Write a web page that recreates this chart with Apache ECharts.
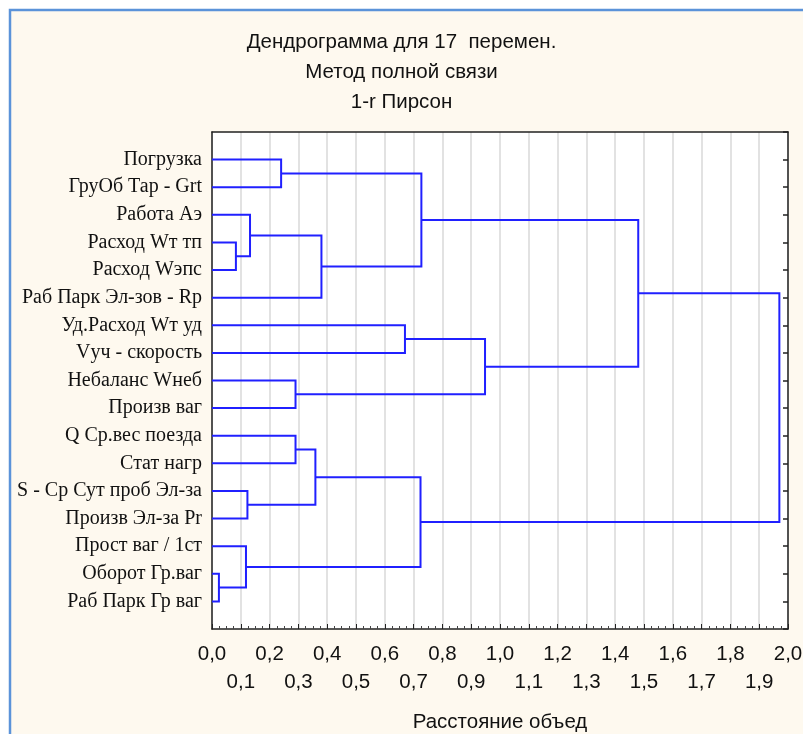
<!DOCTYPE html>
<html lang="ru">
<head>
    <meta charset="UTF-8">
    <title>Дендрограмма</title>
    <style type="text/css">
        *{
            margin: 0;
            padding: 0;
        }
        #main{
            width: 803px;
            height: 734px;
        }
    </style>
</head>
<body>
    <div id="main"></div>
    <script src="https://cdn.jsdelivr.net/npm/echarts@6/dist/echarts.min.js"></script>
    <script type="text/javascript">
        // листья сверху вниз
        var leafNames = [
            'Погрузка', 'ГруОб Тар - Grt', 'Работа Аэ', 'Расход Wт тп', 'Расход Wэпс',
            'Раб Парк Эл-зов - Rp', 'Уд.Расход Wт уд', 'Vуч - скорость', 'Небаланс Wнеб',
            'Произв ваг', 'Q Ср.вес поезда', 'Стат нагр', 'S - Ср Сут проб Эл-за',
            'Произв Эл-за Pr', 'Прост ваг / 1ст', 'Оборот Гр.ваг', 'Раб Парк Гр ваг'
        ];
        // объединения: индексы 0..16 - листья, 17.. - кластеры по порядку
        var mergeA = [0, 3, 2, 19, 17, 6, 8, 22, 21, 10, 12, 26, 15, 14, 28, 25];
        var mergeB = [1, 4, 18, 5, 20, 7, 9, 23, 24, 11, 13, 27, 16, 29, 30, 31];
        var mergeDist = [0.24, 0.083, 0.132, 0.38, 0.727, 0.67, 0.29, 0.948, 1.48,
                         0.29, 0.123, 0.359, 0.024, 0.118, 0.724, 1.97];

        var font = "'Liberation Sans', Arial, sans-serif";

        // положение узлов
        var pos = leafNames.map(function (n, i) { return i + 1; });
        var hgt = leafNames.map(function () { return 0; });
        var links = [];
        for (var k = 0; k < mergeDist.length; k++) {
            var a = mergeA[k], b = mergeB[k];
            links.push([hgt[a], pos[a], mergeDist[k], pos[b], hgt[b]]);
            pos.push((pos[a] + pos[b]) / 2);
            hgt.push(mergeDist[k]);
        }

        var myChart = echarts.init(document.getElementById('main'));

        var option = {
            backgroundColor: '#ffffff',
            animation: false,
            graphic: [
                {
                    type: 'rect',
                    z: -10,
                    shape: {x: 10, y: 10, width: 820, height: 760},
                    style: {fill: '#fef9ef', stroke: '#5b93d9', lineWidth: 2.5}
                }
            ],
            title: {
                text: 'Дендрограмма для 17  перемен.\nМетод полной связи\n1-r Пирсон',
                left: 'center',
                top: 22,
                textStyle: {
                    fontFamily: font,
                    fontSize: 20.5,
                    fontWeight: 'normal',
                    color: '#111',
                    lineHeight: 30
                }
            },
            grid: {
                left: 212,
                right: 15,
                top: 132,
                bottom: 105,
                outerBoundsMode: 'none',
                containLabel: false,
                show: true,
                backgroundColor: '#ffffff',
                borderWidth: 0
            },
            xAxis: [
                {
                    type: 'value',
                    position: 'bottom',
                    min: 0,
                    max: 2,
                    interval: 0.1,
                    name: 'Расстояние объед',
                    nameLocation: 'middle',
                    nameGap: 83,
                    nameTextStyle: {fontFamily: font, fontSize: 20.5, color: '#111'},
                    axisLine: {show: true, onZero: false, lineStyle: {color: '#222', width: 1.5}},
                    axisTick: {show: true, inside: true, length: 5, lineStyle: {color: '#222'}},
                    minorTick: {show: true, splitNumber: 4, length: 3, lineStyle: {color: '#444'}},
                    splitLine: {show: true, lineStyle: {color: '#d9d9d9', width: 1.5}},
                    axisLabel: {
                        margin: 11,
                        fontFamily: font,
                        fontSize: 20.5,
                        lineHeight: 28,
                        color: '#111',
                        showMinLabel: true,
                        showMaxLabel: true,
                        formatter: function (v) {
                            var s = v.toFixed(1).replace('.', ',');
                            return Math.round(v * 10) % 2 ? '\n' + s : s;
                        }
                    }
                },
                {
                    type: 'value',
                    position: 'top',
                    min: 0,
                    max: 2,
                    axisLine: {show: true, onZero: false, lineStyle: {color: '#222', width: 1.5}},
                    axisTick: {show: false},
                    minorTick: {show: false},
                    axisLabel: {show: false},
                    splitLine: {show: false}
                }
            ],
            yAxis: [
                {
                    type: 'value',
                    min: 0,
                    max: 18,
                    interval: 1,
                    inverse: true,
                    axisLine: {show: true, onZero: false, lineStyle: {color: '#222', width: 1.5}},
                    axisTick: {show: false},
                    splitLine: {show: false},
                    axisLabel: {
                        margin: 10,
                        fontFamily: "'Liberation Serif', 'Times New Roman', serif",
                        fontSize: 20,
                        color: '#111',
                        formatter: function (v) {
                            return leafNames[v - 1] || '';
                        }
                    }
                },
                {
                    type: 'value',
                    position: 'right',
                    min: 0,
                    max: 18,
                    interval: 1,
                    inverse: true,
                    axisLine: {show: true, onZero: false, lineStyle: {color: '#222', width: 1.5}},
                    axisTick: {show: true, inside: true, length: 5, lineStyle: {color: '#222', width: 1.5}},
                    axisLabel: {show: false},
                    splitLine: {show: false}
                }
            ],
            series: [
                {
                    type: 'custom',
                    xAxisIndex: 0,
                    yAxisIndex: 0,
                    clip: false,
                    silent: true,
                    renderItem: function (params, api) {
                        var p1 = api.coord([api.value(0), api.value(1)]);
                        var p2 = api.coord([api.value(2), api.value(1)]);
                        var p3 = api.coord([api.value(2), api.value(3)]);
                        var p4 = api.coord([api.value(4), api.value(3)]);
                        return {
                            type: 'polyline',
                            shape: {points: [p1, p2, p3, p4]},
                            style: {fill: null, stroke: '#2020ff', lineWidth: 2}
                        };
                    },
                    encode: {x: [0, 2, 4], y: [1, 3]},
                    data: links
                }
            ]
        };

        myChart.setOption(option);
    </script>
</body>
</html>
